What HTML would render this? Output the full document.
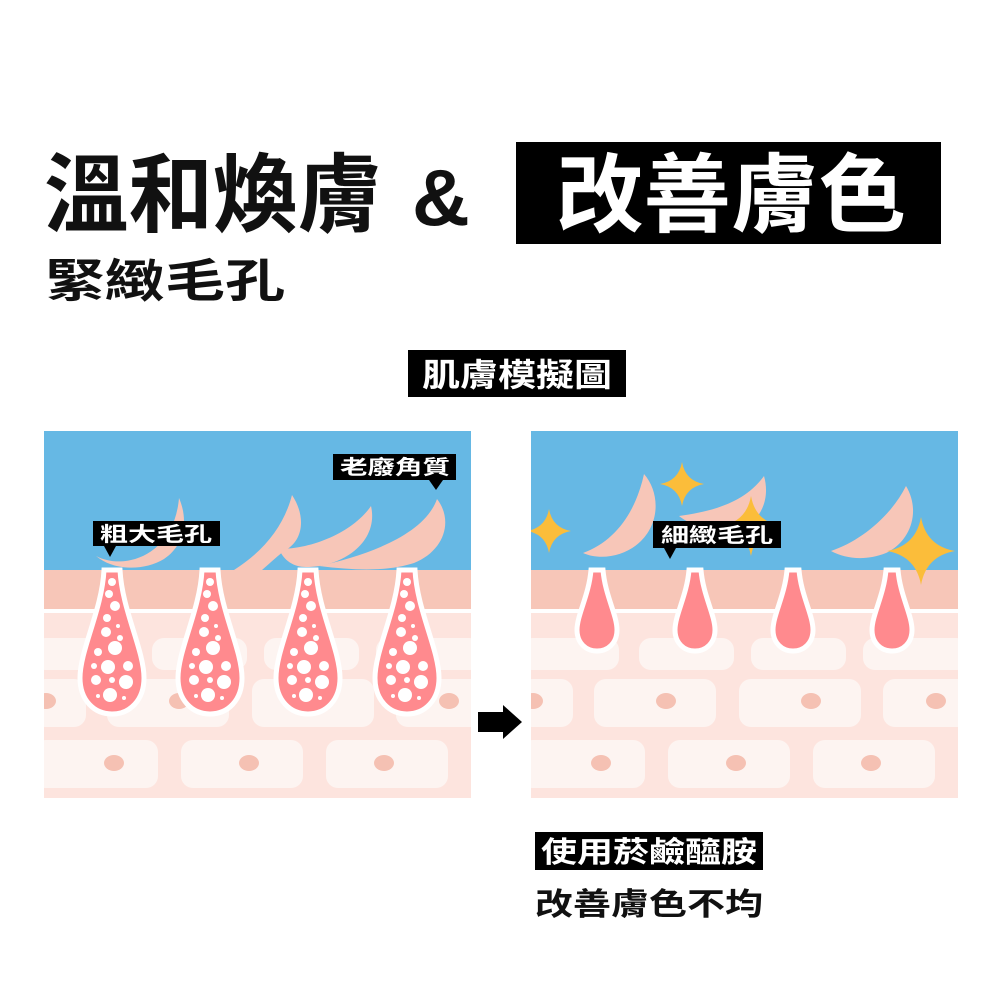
<!DOCTYPE html>
<html><head><meta charset="utf-8"><style>
html,body{margin:0;padding:0;background:#fff;}
svg{display:block;}
text{font-family:"Liberation Sans","Noto Sans CJK TC",sans-serif;font-weight:bold;}
</style></head><body>
<svg width="1000" height="1000" viewBox="0 0 1000 1000" xmlns="http://www.w3.org/2000/svg">
<defs>
<clipPath id="pc"><rect x="0" y="0" width="427" height="367"/></clipPath>
<g id="cells">
  <rect x="0" y="0" width="427" height="367" fill="#fde4de"/>
  <rect x="0" y="0" width="427" height="139" fill="#66b8e4"/>
  <rect x="0" y="139" width="427" height="39" fill="#f7c6b8"/>
  <rect x="0" y="178" width="427" height="4" fill="#fff"/>
  <g fill="#fdf4f1">
    <rect x="-10" y="207" width="98" height="32" rx="12"/>
    <rect x="108" y="207" width="95" height="32" rx="12"/>
    <rect x="220" y="207" width="95" height="32" rx="12"/>
    <rect x="332" y="207" width="105" height="32" rx="12"/>
    <rect x="-10" y="248" width="52" height="48" rx="12"/>
    <rect x="63" y="248" width="122" height="48" rx="12"/>
    <rect x="208" y="248" width="122" height="48" rx="12"/>
    <rect x="352" y="248" width="90" height="48" rx="12"/>
    <rect x="-10" y="309" width="124" height="48" rx="12"/>
    <rect x="137" y="309" width="122" height="48" rx="12"/>
    <rect x="282" y="309" width="122" height="48" rx="12"/>
  </g>
  <g fill="#f5c1b3">
    <ellipse cx="2" cy="270" rx="10" ry="8"/>
    <ellipse cx="135" cy="270" rx="10" ry="8"/>
    <ellipse cx="280" cy="270" rx="10" ry="8"/>
    <ellipse cx="405" cy="270" rx="10" ry="8"/>
    <ellipse cx="70" cy="332" rx="10" ry="8"/>
    <ellipse cx="205" cy="332" rx="10" ry="8"/>
    <ellipse cx="340" cy="332" rx="10" ry="8"/>
  </g>
</g>
<g id="bigpore">
  <path d="M-8,0 L8,0 C10,40 32,80 32,108 C32,130 18,144 0,144 C-18,144 -32,130 -32,108 C-32,80 -10,40 -8,0Z" fill="#ff8a8e" stroke="#fff" stroke-width="5"/>
  <g fill="#fff">
    <circle cx="0" cy="12" r="4"/><circle cx="-3" cy="24" r="4"/><circle cx="3" cy="36" r="5"/>
    <circle cx="-5" cy="48" r="4"/><circle cx="6" cy="56" r="2"/><circle cx="-6" cy="62" r="5"/>
    <circle cx="8" cy="68" r="3"/><circle cx="3" cy="78" r="7"/><circle cx="-14" cy="82" r="4"/>
    <circle cx="-18" cy="96" r="3"/><circle cx="-4" cy="97" r="7"/><circle cx="16" cy="96" r="5"/>
    <circle cx="-16" cy="110" r="5"/><circle cx="0" cy="110" r="3"/><circle cx="14" cy="112" r="7"/>
    <circle cx="-2" cy="125" r="7"/><circle cx="-14" cy="126" r="2"/><circle cx="12" cy="128" r="2"/>
  </g>
</g>
<g id="smallpore">
  <path d="M-6,0 L6,0 C8,25 20,45 20,60 C20,73 11,81 0,81 C-11,81 -20,73 -20,60 C-20,45 -8,25 -6,0Z" fill="#ff8a8e" stroke="#fff" stroke-width="5"/>
</g>
<path id="star" d="M0,-20 Q3,-3 20,0 Q3,3 0,20 Q-3,3 -20,0 Q-3,-3 0,-20Z" fill="#fbbd3a"/>
</defs>

<!-- titles -->
<text x="44" y="225" font-size="86" fill="#111" textLength="338" lengthAdjust="spacingAndGlyphs">溫和煥膚</text>
<text x="412" y="225" font-size="80" fill="#111">&amp;</text>
<rect x="516" y="142" width="425" height="102" fill="#000"/>
<text x="556" y="225" font-size="86" fill="#fff" textLength="350" lengthAdjust="spacingAndGlyphs">改善膚色</text>
<text x="45" y="297" font-size="46" fill="#111" textLength="240" lengthAdjust="spacingAndGlyphs">緊緻毛孔</text>
<rect x="408" y="350" width="218" height="47" fill="#000"/>
<text x="422" y="386" font-size="32" fill="#fff" textLength="190" lengthAdjust="spacingAndGlyphs">肌膚模擬圖</text>

<!-- left panel -->
<g transform="translate(44,431)">
 <g clip-path="url(#pc)">
  <use href="#cells"/>
  <g fill="#f7c6b8">
    <path d="M52,125 C80,140 130,125 135,67 C145,90 140,115 120,128 C100,140 70,140 52,125Z"/>
    <path d="M190,139 C220,120 240,95 248,64 C262,85 260,110 240,120 C230,128 225,133 218,139Z"/>
    <path d="M235,118 C270,118 310,100 327,75 C335,110 300,136 262,136 C250,136 240,130 235,118Z"/>
    <path d="M275,135 C320,125 380,105 393,68 C410,90 400,120 370,132 C345,140 315,140 275,135Z"/>
  </g>
  <use href="#bigpore" x="68" y="139"/>
  <use href="#bigpore" x="166" y="139"/>
  <use href="#bigpore" x="264" y="139"/>
  <use href="#bigpore" x="363" y="139"/>
 </g>
  <rect x="49" y="90" width="127" height="25" fill="#000"/>
  <path d="M60,115 L72,115 L66,126Z" fill="#000"/>
  <text x="56" y="110" font-size="20" fill="#fff" textLength="112" lengthAdjust="spacingAndGlyphs">粗大毛孔</text>
  <rect x="289" y="23" width="123" height="26" fill="#000"/>
  <path d="M385,49 L399,49 L392,59Z" fill="#000"/>
  <text x="296" y="43" font-size="20" fill="#fff" textLength="110" lengthAdjust="spacingAndGlyphs">老廢角質</text>
</g>

<!-- arrow -->
<path d="M478,712 L503,712 L503,705 L522,722 L503,739 L503,732 L478,732Z" fill="#000"/>

<!-- right panel -->
<g transform="translate(531,431)">
 <g clip-path="url(#pc)">
  <use href="#cells"/>
  <g fill="#f7c6b8">
    <path d="M52,122 C85,110 105,80 113,43 C128,60 130,90 110,110 C95,125 70,130 52,122Z"/>
    <path d="M148,85 C185,80 215,70 233,45 C240,70 228,90 210,100 C190,105 165,98 148,85Z"/>
    <path d="M300,120 C330,110 360,85 375,55 C390,80 380,110 355,122 C335,130 315,128 300,120Z"/>
  </g>
  <g transform="translate(151,53) scale(1.1)"><use href="#star"/></g>
  <g transform="translate(18,100) scale(1.1)"><use href="#star"/></g>
  <g transform="translate(220,95) scale(1.5)"><use href="#star"/></g>
  <g transform="translate(390,120) scale(1.7)"><use href="#star"/></g>
  <use href="#smallpore" x="66" y="139"/>
  <use href="#smallpore" x="164" y="139"/>
  <use href="#smallpore" x="262" y="139"/>
  <use href="#smallpore" x="361" y="139"/>
 </g>
  <rect x="122" y="90" width="128" height="27" fill="#000"/>
  <path d="M133,117 L145,117 L139,128Z" fill="#000"/>
  <text x="130" y="111" font-size="20" fill="#fff" textLength="112" lengthAdjust="spacingAndGlyphs">細緻毛孔</text>
</g>

<!-- bottom -->
<rect x="535" y="832" width="228" height="38" fill="#000"/>
<text x="541" y="862" font-size="29" fill="#fff" textLength="216" lengthAdjust="spacingAndGlyphs">使用菸鹼醯胺</text>
<text x="535" y="915" font-size="31" fill="#111" textLength="228" lengthAdjust="spacingAndGlyphs">改善膚色不均</text>
</svg>
</body></html>
